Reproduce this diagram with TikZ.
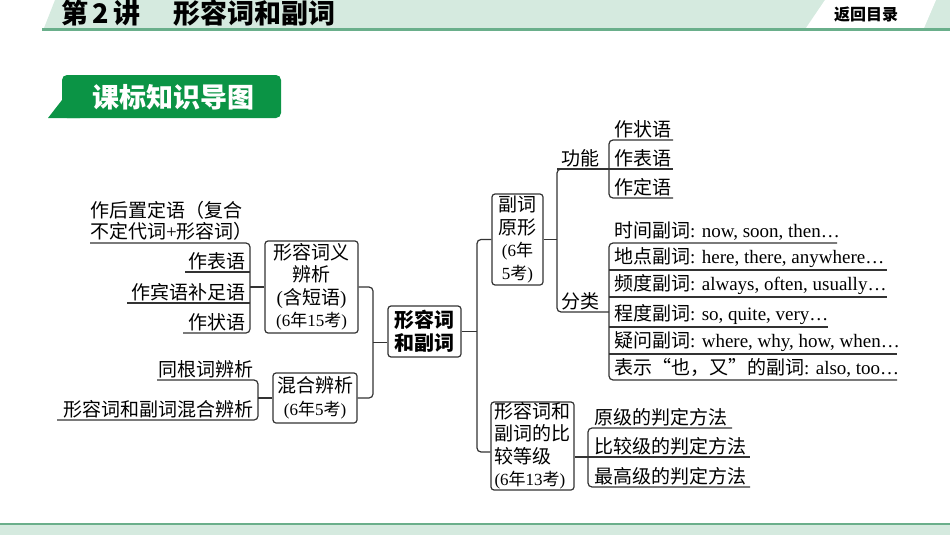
\documentclass[tikz,border=0pt]{standalone}
\usepackage{fontspec}
\setmainfont{Liberation Serif}
\newfontfamily\cjk{Noto Sans CJK SC}
\definecolor{hdrband}{HTML}{D5EADF}
\definecolor{hdrline}{HTML}{6AAF8B}
\definecolor{kgreen}{HTML}{0B9445}
\definecolor{lc}{HTML}{333333}
\newcommand\lat[1]{{\rmfamily #1}}
\tikzset{
  conn/.style={draw=lc, line width=1.2pt, rounded corners=4pt},
  mbox/.style={draw=lc, line width=1.2pt, rounded corners=3pt, fill=white, inner sep=0pt,
    align=center, font=\cjk\fontsize{19}{22.5}\selectfont},
  leaf/.style={inner sep=2pt, anchor=south west, font=\cjk\fontsize{19}{21}\selectfont},
  leafr/.style={inner sep=2pt, anchor=south east, font=\cjk\fontsize{19}{21}\selectfont},
}
\begin{document}
\begin{tikzpicture}[x=1pt,y=-1pt]
\useasboundingbox (0,0) rectangle (950,535);
% header
\fill[hdrband] (55,0) -- (950,0) -- (950,28) -- (44,28) -- cycle;
\fill[white] (825,0) -- (936,0) -- (924,28) -- (806,28) -- cycle;
\draw[hdrline, line width=2.5pt] (42,29.5) -- (950,29.5);
\node[anchor=west, inner sep=0pt, font=\cjk\bfseries\fontsize{27}{27}\selectfont] (title) at (61,13) {第\,2\,讲\hspace{1.2em}形容词和副词};
\node[inner sep=0pt, font=\cjk\bfseries\fontsize{16}{16}\selectfont] (back) at (866,15) {返回目录};
% footer
\fill[hdrband] (0,525) rectangle (950,535);
\draw[hdrline, line width=2.5pt] (0,524) -- (950,524);
% green tag
\fill[kgreen, rounded corners=5pt] (62,75) rectangle (281,118);
\fill[kgreen] (62,100) -- (48,118) -- (80,118) -- cycle;
\node[inner sep=0pt, text=white, font=\cjk\bfseries\fontsize{27}{27}\selectfont] (tag) at (173,97) {课标知识导图};

% boxes
\node[mbox, minimum width=73pt, minimum height=51pt, font=\cjk\bfseries\fontsize{20}{23}\selectfont] (c) at (424.5,331.5) {形容词\\和副词};
\node[mbox, minimum width=93pt, minimum height=92pt] (b1) at (311.5,287) {形容词义\\辨析\\\lat{(}含短语\lat{)}\\{\fontsize{17}{20}\selectfont\lat{(6}年\lat{15}考\lat{)}}};
\node[mbox, minimum width=84pt, minimum height=50pt] (b2) at (315,398) {混合辨析\\{\fontsize{17}{20}\selectfont\lat{(6}年\lat{5}考\lat{)}}};
\node[mbox, minimum width=51pt, minimum height=91pt] (b3) at (517.5,239.5) {副词\\原形\\{\fontsize{17}{20}\selectfont\lat{(6}年}\\{\fontsize{17}{20}\selectfont\lat{5}考\lat{)}}};
\node[mbox, minimum width=83pt, minimum height=88pt, align=left] (b4) at (532.5,446) {形容词和\\副词的比\\较等级\\{\fontsize{17}{20}\selectfont\lat{(6}年\lat{13}考\lat{)}}};

% central connectors
\draw[conn] (b1.east) -- (373,287) coordinate (lj) -- (373,398) -- (b2.east);
\draw[conn] ([yshift=-11pt]c.west) -- (373,342.5);
\draw[conn] (c.east) -- (477,331.5) coordinate (rj);
\draw[conn] (b3.west) -- (477,239.5) -- (477,452) -- ([yshift=-6pt]b4.west);

% left leaves of b1
\draw[conn] (b1.west) -- (250,287);
\draw[conn] (90,243) -- (250,243) -- (250,333) -- (183,333);
\draw[conn] (185,272) -- (250,272);
\draw[conn] (127,303) -- (250,303);
\node[leaf, align=left, font=\cjk\fontsize{19}{21}\selectfont] (l1) at (88,243) {作后置定语（复合\\不定代词\lat{+}形容词）};
\node[leafr] (l2) at (248,272) {作表语};
\node[leafr] (l3) at (248,303) {作宾语补足语};
\node[leafr] (l4) at (248,333) {作状语};

% left leaves of b2
\draw[conn] (b2.west) -- (258,398);
\draw[conn] (157,380) -- (258,380) -- (258,420) -- (57,420);
\node[leafr] (m1) at (256,380) {同根词辨析};
\node[leafr] (m2) at (256,420) {形容词和副词混合辨析};

% b3 right
\draw[conn] (b3.east) -- (557,239.5);
\draw[conn] (609,169) -- (557,169) -- (557,312) -- (609,312);
\node[leaf] (gn) at (559,169) {功能};
\node[leaf] (fl) at (559,312) {分类};
\draw[conn] (673,140) -- (609,140) -- (609,198) -- (673,198);
\draw[conn] (557,169) -- (673,169);
\node[leaf] (g1) at (612,140) {作状语};
\node[leaf] (g2) at (612,169) {作表语};
\node[leaf] (g3) at (612,198) {作定语};

\draw[conn] (837,243) -- (609,243) -- (609,380) -- (897,380);
\draw[conn] (609,270) -- (887,270);
\draw[conn] (609,297) -- (887,297);
\draw[conn] (609,327) -- (828,327);
\draw[conn] (609,354) -- (897,354);
\node[leaf] (k1) at (612,243) {时间副词\lat{: now, soon, then…}};
\node[leaf] (k2) at (612,270) {地点副词\lat{: here, there, anywhere…}};
\node[leaf] (k3) at (612,297) {频度副词\lat{: always, often, usually…}};
\node[leaf] (k4) at (612,327) {程度副词\lat{: so, quite, very…}};
\node[leaf] (k5) at (612,354) {疑问副词\lat{: where, why, how, when…}};
\node[leaf] (k6) at (612,380) {表示“也，又”的副词\lat{: also, too…}};

% b4 right
\draw[conn] ([yshift=-11pt]b4.east) -- (588,457);
\draw[conn] (732,428) -- (588,428) -- (588,487) -- (750,487);
\draw[conn] (588,457) -- (750,457);
\node[leaf] (d1) at (592,428) {原级的判定方法};
\node[leaf] (d2) at (592,457) {比较级的判定方法};
\node[leaf] (d3) at (592,487) {最高级的判定方法};
\end{tikzpicture}
\end{document}
